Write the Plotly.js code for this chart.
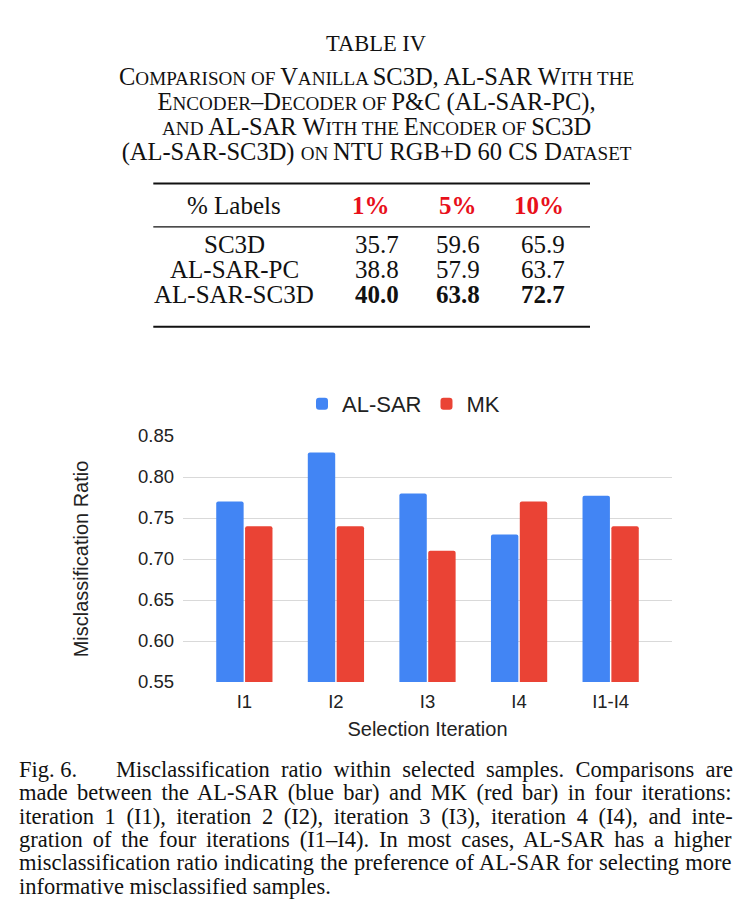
<!DOCTYPE html>
<html><head><meta charset="utf-8">
<script src="https://cdn.plot.ly/plotly-3.0.1.min.js"></script>
<style>html,body{margin:0;padding:0;background:#fff;}#chart{width:742px;height:924px;}</style>
</head><body><div id="chart"></div>
<script>
// ---------------- data ----------------
const iterations = ['I1', 'I2', 'I3', 'I4', 'I1-I4'];
const alsarRatio = [0.77, 0.83, 0.78, 0.73, 0.777];
const mkRatio = [0.74, 0.74, 0.71, 0.77, 0.74];
const seriesNames = ['AL-SAR', 'MK'];
const yTickVals = [0.55, 0.60, 0.65, 0.70, 0.75, 0.80, 0.85];
const yTickText = ['0.55', '0.60', '0.65', '0.70', '0.75', '0.80', '0.85'];
const xTitle = 'Selection Iteration';
const yTitle = 'Misclassification Ratio';

const tableTitle = 'TABLE IV';
const tableCaption = [
  'Comparison of Vanilla SC3D, AL-SAR With the',
  'Encoder–Decoder of P&C (AL-SAR-PC),',
  'and AL-SAR With the Encoder of SC3D',
  '(AL-SAR-SC3D) on NTU RGB+D 60 CS Dataset'
];
const tableCorner = '% Labels';
const labelFractions = ['1%', '5%', '10%'];
const methods = ['SC3D', 'AL-SAR-PC', 'AL-SAR-SC3D'];
const acc1 = [35.7, 38.8, 40.0];
const acc5 = [59.6, 57.9, 63.8];
const acc10 = [65.9, 63.7, 72.7];
const bestMethod = 'AL-SAR-SC3D';

const figLabel = 'Fig. 6.';
const figCaption = [
  'Misclassification ratio within selected samples. Comparisons are',
  'made between the AL-SAR (blue bar) and MK (red bar) in four iterations:',
  'iteration 1 (I1), iteration 2 (I2), iteration 3 (I3), iteration 4 (I4), and inte-',
  'gration of the four iterations (I1–I4). In most cases, AL-SAR has a higher',
  'misclassification ratio indicating the preference of AL-SAR for selecting more',
  'informative misclassified samples.'
];

// ---------------- layout helpers ----------------
const W = 742, H = 924;
const M = {l: 183, r: 70, t: 436, b: 242};
const PW = W - M.l - M.r, PH = H - M.t - M.b;
const px = x => (x - M.l) / PW;
const py = y => (H - M.b - y) / PH;
const serif = '"Liberation Serif", "Times New Roman", Times, serif';
const sans = '"Liberation Sans", Arial, Helvetica, sans-serif';
const esc = s => s.replace(/&/g, '&amp;').replace(/</g, '&lt;');

const annotations = [];
function addText(text, x, y, font, xanchor) {
  annotations.push({
    text: text, x: px(x), y: py(y), xref: 'paper', yref: 'paper',
    showarrow: false, xanchor: xanchor || 'center', yanchor: 'middle',
    align: xanchor || 'center', borderpad: 0,
    font: Object.assign({family: serif, size: 25, color: '#111'}, font)
  });
}

// table title
addText(tableTitle, 376, 43, {size: 22.5});

// caption in small capitals (capitals 24.5px, small capitals 0.78 of that)
const capBig = 24.5;
const capSmall = capBig * 0.78;
function smallCaps(str) {
  const runs = [];
  for (const ch of str) {
    const lower = ch === ' ' ? (runs.length ? runs[runs.length - 1].lower : false) : /[a-z]/.test(ch);
    if (runs.length && runs[runs.length - 1].lower === lower) runs[runs.length - 1].t += ch;
    else runs.push({lower: lower, t: ch});
  }
  return runs.map(r => r.lower
    ? '<span style="font-size:' + capSmall.toFixed(2) + 'px">' + esc(r.t.toUpperCase()) + '</span>'
    : '<span style="font-size:' + capBig + 'px">' + esc(r.t) + '</span>').join('');
}
addText(tableCaption.map(smallCaps).join('<br>'), 376, 114.5, {size: 19.2});

// table
const rowLabelX = 234;
const colX = [377, 458, 543];
const headX = [371, 457.5, 538.5];
const headY = 205;
const rowY = [244, 269, 294];
const red = '#e8101a';
addText(esc(tableCorner), rowLabelX, headY, {size: 25});
labelFractions.forEach((t, j) => addText('<b>' + t + '</b>', headX[j], headY, {size: 25, color: red}));
const cols = [acc1, acc5, acc10];
methods.forEach((m, i) => {
  addText(m, rowLabelX, rowY[i], {size: 25});
  cols.forEach((c, j) => {
    const s = c[i].toFixed(1);
    addText(m === bestMethod ? '<b>' + s + '</b>' : s, colX[j], rowY[i], {size: 25});
  });
});
const ruleX0 = 153.3, ruleX1 = 590;
const shapes = [
  {y: 183.5, w: 2}, {y: 226.8, w: 1.2}, {y: 326.7, w: 2}
].map(r => ({type: 'line', xref: 'paper', yref: 'paper', x0: px(ruleX0), x1: px(ruleX1),
  y0: py(r.y), y1: py(r.y), line: {color: '#111', width: r.w}}));

// figure caption, justified lines
const capSize = 22.5;
const ctx = document.createElement('canvas').getContext('2d');
ctx.font = capSize + 'px "Liberation Serif"';
function justify(text, width) {
  const n = (text.match(/ /g) || []).length;
  const w = ctx.measureText(text).width;
  const ws = n ? (width - w) / n : 0;
  return '<span style="word-spacing:' + ws.toFixed(2) + 'px">' + esc(text) + '</span>';
}
const capLeft = 18.3, capRight = 732, firstLineStart = 115;
const lineY0 = 769.5, lineStep = 23.3;
addText(figLabel, capLeft, lineY0, {size: capSize}, 'left');
figCaption.forEach((t, i) => {
  const last = i === figCaption.length - 1;
  const x0 = i === 0 ? firstLineStart : capLeft;
  addText(last ? esc(t) : justify(t, capRight - x0), x0, lineY0 + i * lineStep, {size: capSize}, 'left');
});

// ---------------- chart ----------------
const traces = [
  {type: 'bar', name: seriesNames[0], x: iterations, y: alsarRatio,
   marker: {color: '#4285f4', cornerradius: 2}},
  {type: 'bar', name: seriesNames[1], x: iterations, y: mkRatio,
   marker: {color: '#ea4335', cornerradius: 2}}
];

const layout = {
  width: W, height: H,
  margin: {l: M.l, r: M.r, t: M.t, b: M.b, pad: 0},
  paper_bgcolor: '#fff', plot_bgcolor: '#fff',
  font: {family: sans, color: '#222'},
  barmode: 'group', bargap: 0.37, bargroupgap: 0.05,
  showlegend: true,
  legend: {orientation: 'h', x: px(302), xanchor: 'left', y: py(404), yanchor: 'middle',
    font: {size: 22, color: '#222'}, itemwidth: 30, traceorder: 'normal', bgcolor: 'rgba(0,0,0,0)'},
  xaxis: {type: 'category', range: [-0.67, 4.67], showgrid: false, zeroline: false, showline: false,
    ticks: '', tickfont: {size: 18.5, color: '#222'}, ticklabelstandoff: 6,
    title: {text: xTitle, font: {size: 20, color: '#222'}, standoff: 11}},
  yaxis: {range: [0.55, 0.85], tickmode: 'array', tickvals: yTickVals, ticktext: yTickText,
    showgrid: true, gridcolor: '#d9d9d9', gridwidth: 1, zeroline: false, showline: false,
    ticks: '', tickfont: {size: 18.5, color: '#222'}, ticklabelstandoff: 8,
    title: {text: yTitle, font: {size: 20, color: '#222'}, standoff: 43}},
  annotations: annotations,
  shapes: shapes
};

Plotly.newPlot('chart', traces, layout, {staticPlot: true, displayModeBar: false});
</script>
</body></html>
